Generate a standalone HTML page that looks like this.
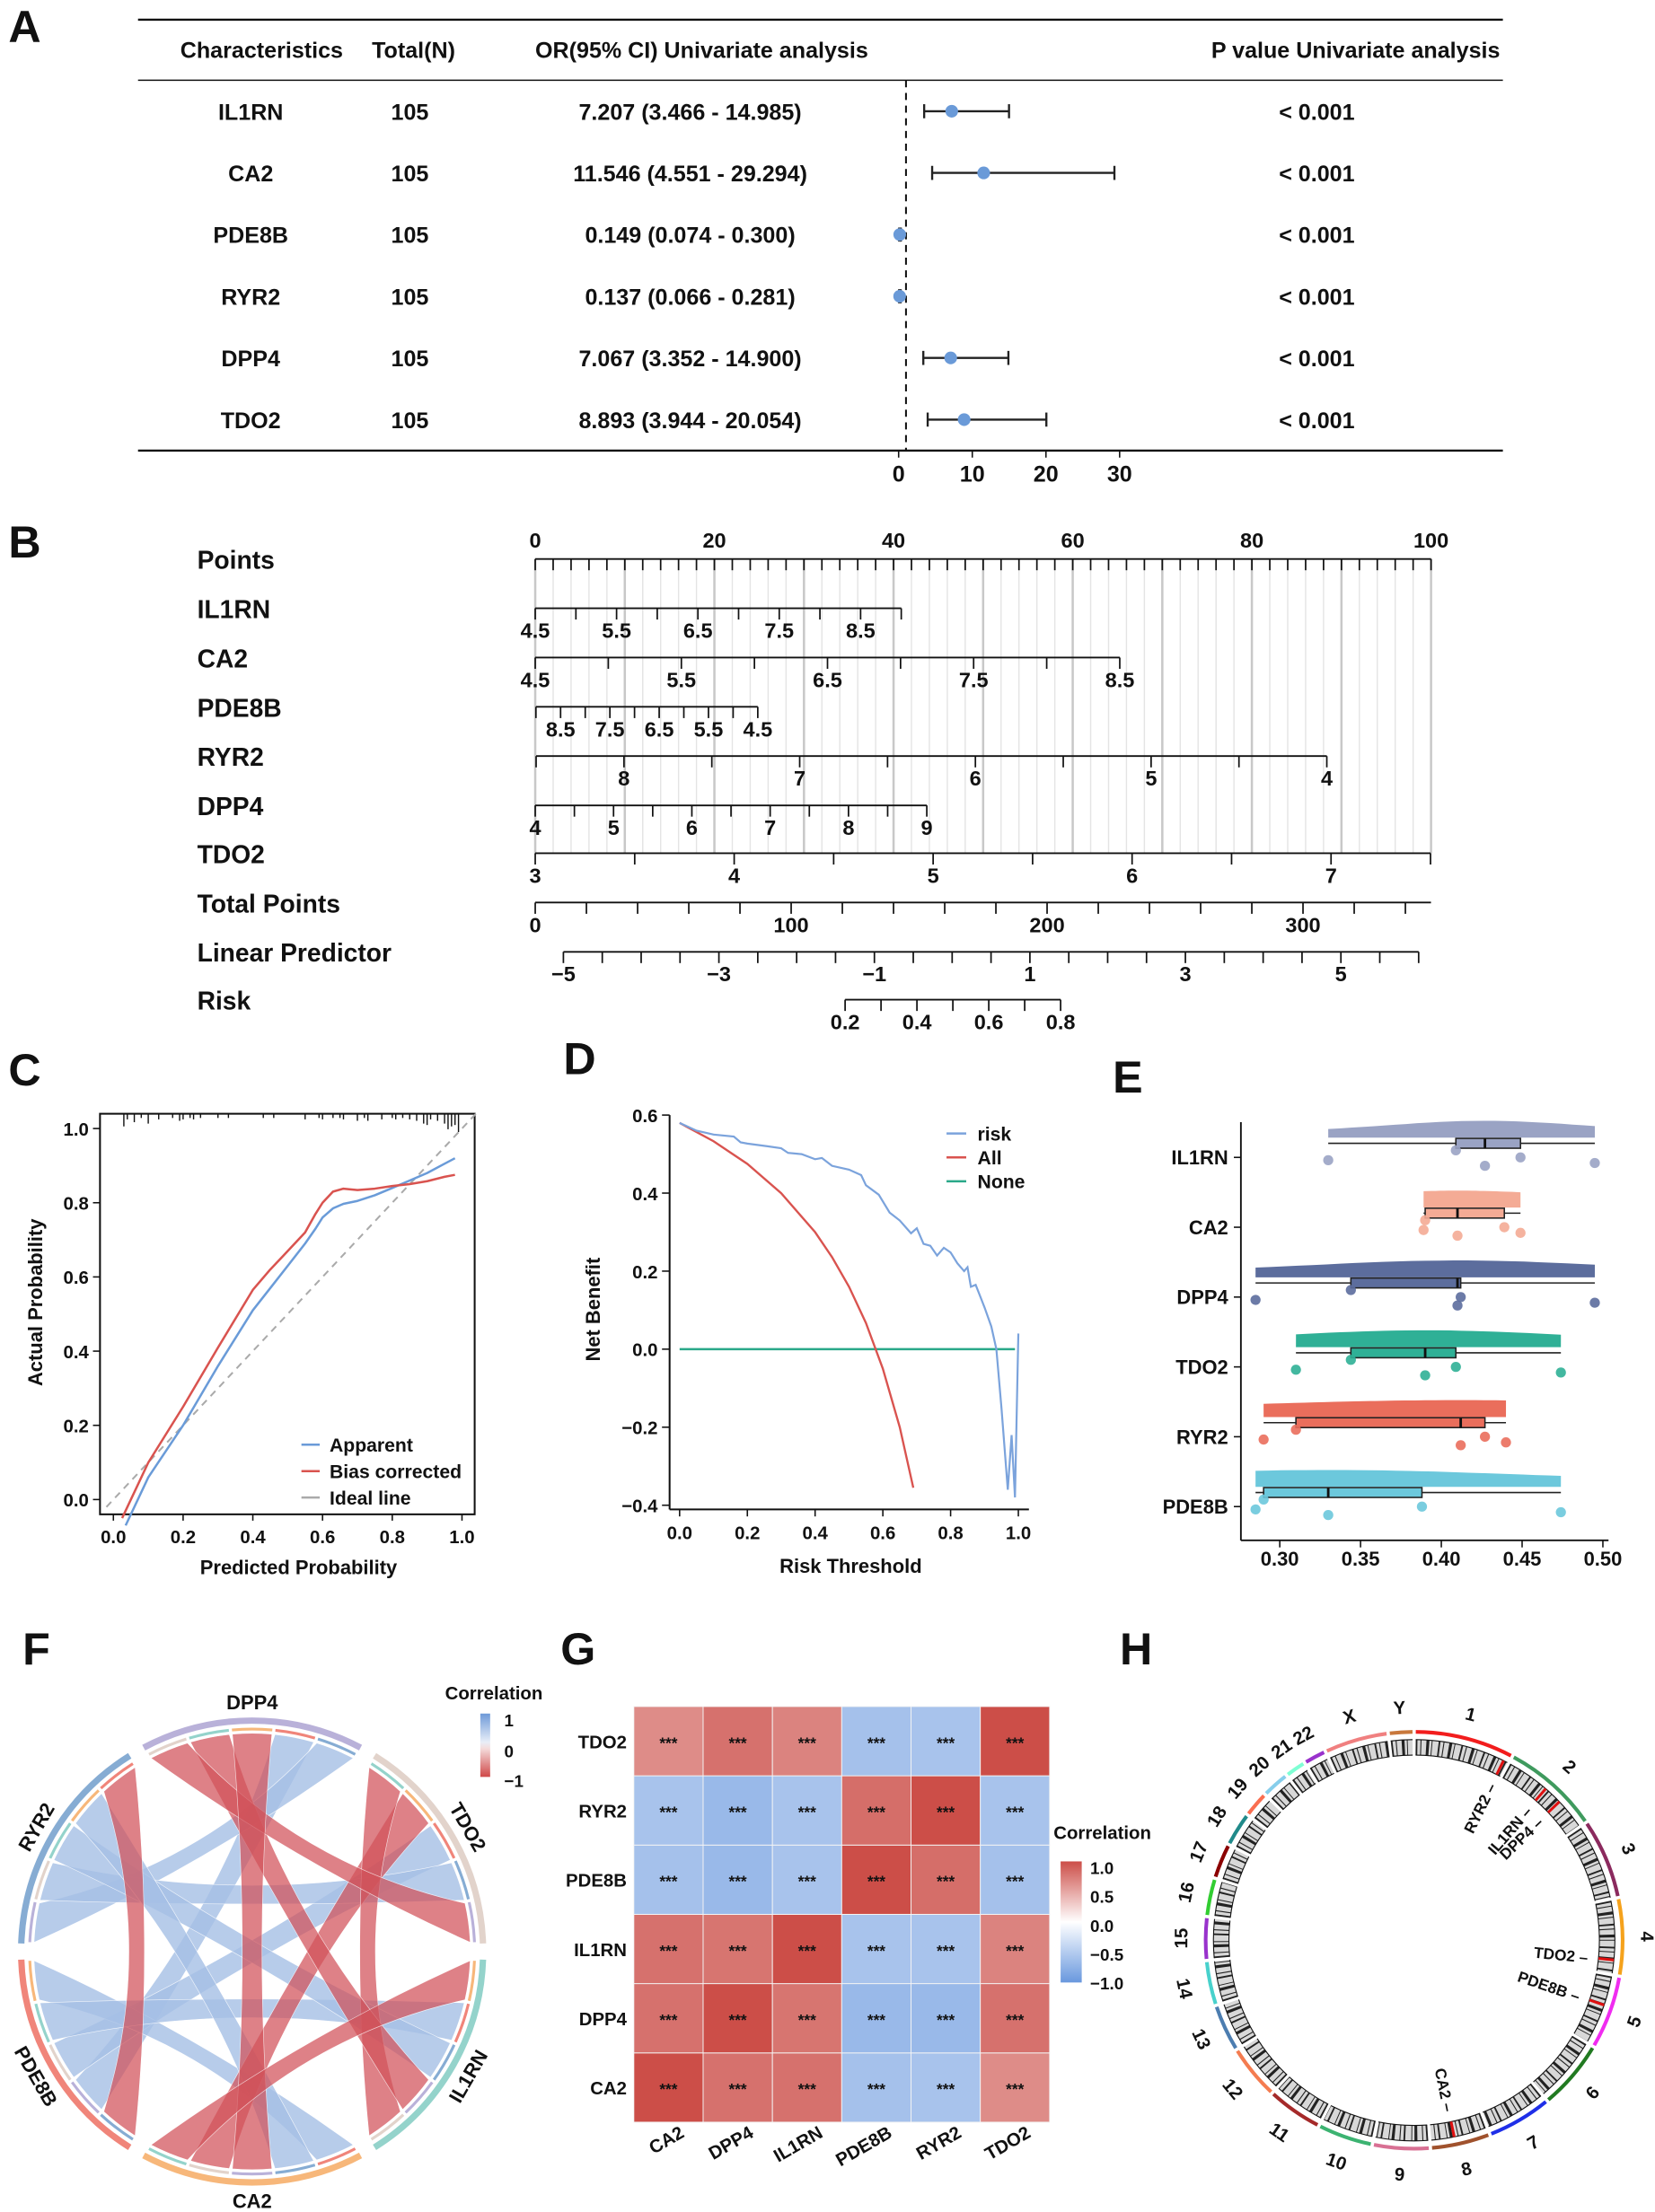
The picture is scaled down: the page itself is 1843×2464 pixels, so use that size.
<!DOCTYPE html>
<html><head><meta charset="utf-8">
<style>
html,body{margin:0;padding:0;background:#fff;}
svg{display:block;font-family:"Liberation Sans",Arial,sans-serif;}
text{font-weight:bold;fill:#111;}
</style></head>
<body>
<svg id="fig" xmlns="http://www.w3.org/2000/svg" width="1843" height="2464" viewBox="0 0 1175 1571" preserveAspectRatio="none">
<rect x="0" y="0" width="1175" height="1571" fill="#fff"/>
<g font-size="32">
<text x="6" y="30">A</text>
<text x="6" y="396">B</text>
<text x="6" y="771">C</text>
<text x="400" y="763">D</text>
<text x="790" y="776">E</text>
<text x="16" y="1182">F</text>
<text x="398" y="1182">G</text>
<text x="795" y="1182">H</text>
</g>
</svg>
<script>
const NS='http://www.w3.org/2000/svg';
const svg=document.getElementById('fig');
function el(tag,attrs,parent,name,txt){
  const e=document.createElementNS(NS,tag);
  for(const k in attrs) e.setAttribute(k,attrs[k]);
  
  
  if(txt!==undefined) e.textContent=txt;
  (parent||svg).appendChild(e);
  return e;
}
function grp(name){return el('g',{},svg,name);}

/* ---------------- Panel A: forest table ---------------- */
const fGenes=['IL1RN','CA2','PDE8B','RYR2','DPP4','TDO2'];
const fTotals=[105,105,105,105,105,105];
const fOR=[7.207,11.546,0.149,0.137,7.067,8.893];
const fLo=[3.466,4.551,0.074,0.066,3.352,3.944];
const fHi=[14.985,29.294,0.300,0.281,14.900,20.054];
const fP=['< 0.001','< 0.001','< 0.001','< 0.001','< 0.001','< 0.001'];
const fTicks=[0,10,20,30];
(function(){
  const g=grp('panel-a-forest');
  const xA=v=>638+v*5.23;
  el('line',{x1:98,x2:1067,y1:14,y2:14,stroke:'#111','stroke-width':1.5},g,'table-top-rule');
  el('line',{x1:98,x2:1067,y1:57,y2:57,stroke:'#111','stroke-width':1},g,'header-rule');
  el('line',{x1:98,x2:1067,y1:320,y2:320,stroke:'#111','stroke-width':1.5},g,'table-bottom-rule');
  const hs=[['Characteristics',128,'start'],['Total(N)',264,'start'],['OR(95% CI) Univariate analysis',380,'start'],['P value Univariate analysis',1065,'end']];
  hs.forEach(h=>el('text',{x:h[1],y:41,'font-size':16,'text-anchor':h[2]},g,'column-header',h[0]));
  el('line',{x1:xA(1),x2:xA(1),y1:57,y2:320,stroke:'#111','stroke-width':1.3,'stroke-dasharray':'5,4'},g,'reference-line');
  fGenes.forEach((n,i)=>{
    const y=79+i*43.8;
    el('text',{x:178,y:y+6,'font-size':16,'text-anchor':'middle'},g,'gene-name',n);
    el('text',{x:291,y:y+6,'font-size':16,'text-anchor':'middle'},g,'total-n',String(fTotals[i]));
    el('text',{x:490,y:y+6,'font-size':16,'text-anchor':'middle'},g,'odds-ratio-ci',fOR[i].toFixed(3)+' ('+fLo[i].toFixed(3)+' - '+fHi[i].toFixed(3)+')');
    el('text',{x:908,y:y+6,'font-size':16},g,'p-value',fP[i]);
    el('line',{x1:xA(fLo[i]),x2:xA(fHi[i]),y1:y,y2:y,stroke:'#222','stroke-width':1.5},g,'ci-line');
    [fLo[i],fHi[i]].forEach(v=>el('line',{x1:xA(v),x2:xA(v),y1:y-5,y2:y+5,stroke:'#222','stroke-width':1.5},g,'ci-cap'));
    el('circle',{cx:xA(fOR[i]),cy:y,r:4.5,fill:'#6a9ad8'},g,'or-point');
  });
  fTicks.forEach(t=>{
    el('line',{x1:xA(t),x2:xA(t),y1:320,y2:325,stroke:'#111'},g,'x-tick');
    el('text',{x:xA(t),y:342,'font-size':16,'text-anchor':'middle'},g,'x-tick-label',String(t));
  });
})();

/* ---------------- Panel B: nomogram ---------------- */
const nRows=['Points','IL1RN','CA2','PDE8B','RYR2','DPP4','TDO2','Total Points','Linear Predictor','Risk'];
const nLabelsIL1RN=[4.5,5.5,6.5,7.5,8.5];
const nLabelsCA2=[4.5,5.5,6.5,7.5,8.5];
const nLabelsPDE8B=[8.5,7.5,6.5,5.5,4.5];
const nLabelsRYR2=[8,7,6,5,4];
const nLabelsDPP4=[4,5,6,7,8,9];
const nLabelsTDO2=[3,4,5,6,7];
const nLabelsTotal=[0,100,200,300];
const nLabelsLP=[-5,-3,-1,1,3,5];
const nLabelsRisk=[0.2,0.4,0.6,0.8];
const nLabelsPoints=[0,20,40,60,80,100];
(function(){
  const g=grp('panel-b-nomogram');
  const ys=[397,432,467,502,537,572,606,641,676,710];
  const ptX=v=>380+v*6.36;
  for(let v=0;v<=100;v+=2){
    el('line',{x1:ptX(v),x2:ptX(v),y1:397,y2:606,stroke:v%10===0?'#c8c8c8':'#e4e4e4','stroke-width':v%10===0?1.6:0.9},g,'grid-line');
  }
  nRows.forEach((n,i)=>el('text',{x:140,y:ys[i]+7,'font-size':18},g,'row-label',n));
  function axis(y,v0,p0,k,a,b,step,labels,name,above,fmt){
    const X=v=>p0+(v-v0)*k;
    el('line',{x1:X(a),x2:X(b),y1:y,y2:y,stroke:'#111','stroke-width':1.2},g,name+'-axis');
    const lo=Math.min(a,b),hi=Math.max(a,b);
    for(let v=lo;v<=hi+1e-9;v+=step){
      el('line',{x1:X(v),x2:X(v),y1:y,y2:y+8,stroke:'#111','stroke-width':1.1},g,name+'-tick');
    }
    labels.forEach(v=>el('text',{x:X(v),y:above?y-8:y+21,'font-size':15,'text-anchor':'middle'},g,name+'-tick-label',fmt?fmt(v):String(v)));
  }
  axis(397,0,380,6.36,0,100,2,nLabelsPoints,'points',true);
  const f1=v=>v.toFixed(1);
  axis(432,4.5,380,57.75,4.5,9,0.5,nLabelsIL1RN,'il1rn',false,f1);
  axis(467,4.5,380,103.75,4.5,8.5,0.5,nLabelsCA2,'ca2',false,f1);
  axis(502,8.5,398,-35,9,4.5,0.5,nLabelsPDE8B,'pde8b',false,f1);
  axis(537,8,443,-124.75,8.5,4,0.5,nLabelsRYR2,'ryr2',false);
  axis(572,4,380,55.6,4,9,0.5,nLabelsDPP4,'dpp4',false);
  axis(606,3,380,141.25,3,7.5,0.5,nLabelsTDO2,'tdo2',false);
  axis(641,0,380,1.817,0,350,20,nLabelsTotal,'total-points',false);
  axis(676,-5,400,55.2,-5,6,0.5,nLabelsLP,'linear-predictor',false,v=>v<0?'\u2212'+Math.abs(v):String(v));
  axis(710,0.2,600,255,0.2,0.8,0.1,nLabelsRisk,'risk',false,f1);
})();

/* ---------------- Panel C: calibration ---------------- */
const cApparentX=[0.035,0.1,0.2,0.3,0.4,0.45,0.5,0.55,0.58,0.6,0.63,0.66,0.7,0.75,0.8,0.85,0.9,0.95,0.98];
const cApparentY=[-0.07,0.06,0.2,0.36,0.51,0.57,0.63,0.69,0.73,0.76,0.785,0.797,0.805,0.82,0.84,0.86,0.88,0.905,0.92];
const cBiasX=[0.025,0.1,0.2,0.3,0.4,0.45,0.5,0.55,0.58,0.6,0.63,0.66,0.7,0.75,0.8,0.85,0.9,0.95,0.98];
const cBiasY=[-0.05,0.1,0.25,0.41,0.565,0.62,0.67,0.72,0.77,0.8,0.83,0.838,0.834,0.838,0.845,0.85,0.858,0.87,0.875];
const cRug=[0.03,0.04,0.06,0.08,0.1,0.13,0.17,0.19,0.2,0.22,0.23,0.25,0.3,0.33,0.43,0.46,0.55,0.59,0.6,0.63,0.65,0.66,0.7,0.72,0.73,0.77,0.8,0.81,0.83,0.85,0.87,0.89,0.9,0.91,0.93,0.95,0.96,0.97,0.98,0.99];
const cRugLen=[9,4,6,3,7,4,3,5,4,3,4,3,3,3,3,3,4,3,4,3,3,4,5,3,5,4,3,4,3,4,5,7,8,4,5,7,11,9,8,13];
const cTicks=[0,0.2,0.4,0.6,0.8,1.0];
(function(){
  const g=grp('panel-c-calibration');
  const X=v=>80.5+v*247.5, Y=v=>1065-v*263.5;
  el('rect',{x:71,y:791,width:266,height:284.5,fill:'none',stroke:'#111','stroke-width':1.3},g,'plot-frame');
  cTicks.forEach(t=>{
    el('line',{x1:66,x2:71,y1:Y(t),y2:Y(t),stroke:'#111'},g,'y-tick');
    el('text',{x:63,y:Y(t)+5,'font-size':13,'text-anchor':'end'},g,'y-tick-label',t.toFixed(1));
    el('line',{x1:X(t),x2:X(t),y1:1075.5,y2:1080,stroke:'#111'},g,'x-tick');
    el('text',{x:X(t),y:1096,'font-size':13,'text-anchor':'middle'},g,'x-tick-label',t.toFixed(1));
  });
  cRug.forEach((v,i)=>el('line',{x1:X(v),x2:X(v),y1:791,y2:791+cRugLen[i],stroke:'#111','stroke-width':0.9},g,'rug-tick'));
  el('line',{x1:X(-0.02),y1:Y(-0.02),x2:X(1.05),y2:Y(1.05),stroke:'#aaa','stroke-width':1.3,'stroke-dasharray':'5,4'},g,'ideal-line');
  const path=(xs,ys)=>xs.map((x,i)=>(i?'L':'M')+X(x).toFixed(1)+','+Y(ys[i]).toFixed(1)).join(' ');
  el('path',{d:path(cApparentX,cApparentY),fill:'none',stroke:'#6a9bd8','stroke-width':1.6,'stroke-linejoin':'round'},g,'apparent-line');
  el('path',{d:path(cBiasX,cBiasY),fill:'none',stroke:'#d9534f','stroke-width':1.6,'stroke-linejoin':'round'},g,'bias-corrected-line');
  const lg=[['Apparent','#6a9bd8'],['Bias corrected','#d9534f'],['Ideal line','#aaa']];
  lg.forEach((l,i)=>{
    const y=1026+i*18.8;
    el('line',{x1:214,x2:227,y1:y,y2:y,stroke:l[1],'stroke-width':1.6},g,'legend-swatch');
    el('text',{x:234,y:y+5,'font-size':13.5},g,'legend-entry',l[0]);
  });
  el('text',{x:212,y:1118,'font-size':14,'text-anchor':'middle'},g,'x-axis-title','Predicted Probability');
  el('text',{x:0,y:0,'font-size':14,'text-anchor':'middle',transform:'translate(30,925) rotate(-90)'},g,'y-axis-title','Actual Probability');
})();

/* ---------------- Panel D: decision curve ---------------- */
const dRiskX=[0,0.05,0.1,0.16,0.18,0.2,0.26,0.3,0.32,0.36,0.4,0.42,0.45,0.5,0.536,0.55,0.588,0.62,0.65,0.683,0.7,0.72,0.74,0.76,0.78,0.8,0.82,0.84,0.85,0.86,0.874,0.89,0.9,0.92,0.935,0.95,0.969,0.98,0.99,1.0];
const dRiskY=[0.58,0.56,0.55,0.545,0.53,0.527,0.52,0.515,0.503,0.5,0.487,0.49,0.47,0.46,0.446,0.42,0.396,0.35,0.33,0.297,0.31,0.27,0.265,0.24,0.26,0.248,0.22,0.2,0.21,0.16,0.165,0.13,0.107,0.058,0.0,-0.15,-0.36,-0.22,-0.38,0.04];
const dAllX=[0,0.1,0.2,0.3,0.4,0.45,0.5,0.55,0.6,0.65,0.69];
const dAllY=[0.58,0.533,0.475,0.4,0.3,0.236,0.16,0.067,-0.05,-0.2,-0.355];
const dTicksX=[0,0.2,0.4,0.6,0.8,1.0];
const dTicksY=[-0.4,-0.2,0,0.2,0.4,0.6];
(function(){
  const g=grp('panel-d-decision-curve');
  const X=v=>482.5+v*240.5, Y=v=>958.2-v*277.1;
  el('line',{x1:475.4,x2:475.4,y1:Y(0.6),y2:1072,stroke:'#111','stroke-width':1.3},g,'y-axis');
  el('line',{x1:475.4,x2:730.5,y1:1072,y2:1072,stroke:'#111','stroke-width':1.3},g,'x-axis');
  dTicksY.forEach(t=>{
    el('line',{x1:470,x2:475.4,y1:Y(t),y2:Y(t),stroke:'#111'},g,'y-tick');
    el('text',{x:467,y:Y(t)+5,'font-size':13,'text-anchor':'end'},g,'y-tick-label',(t<0?'\u2212':'')+Math.abs(t).toFixed(1));
  });
  dTicksX.forEach(t=>{
    el('line',{x1:X(t),x2:X(t),y1:1072,y2:1077,stroke:'#111'},g,'x-tick');
    el('text',{x:X(t),y:1093,'font-size':13,'text-anchor':'middle'},g,'x-tick-label',t.toFixed(1));
  });
  el('line',{x1:X(0),x2:X(0.99),y1:Y(0),y2:Y(0),stroke:'#2aa889','stroke-width':1.6},g,'none-line');
  const path=(xs,ys)=>xs.map((x,i)=>(i?'L':'M')+X(x).toFixed(1)+','+Y(ys[i]).toFixed(1)).join(' ');
  el('path',{d:path(dAllX,dAllY),fill:'none',stroke:'#d9534f','stroke-width':1.5},g,'all-line');
  el('path',{d:path(dRiskX,dRiskY),fill:'none',stroke:'#7ba3dc','stroke-width':1.4},g,'risk-line');
  const lg=[['risk','#7ba3dc'],['All','#d9534f'],['None','#2aa889']];
  lg.forEach((l,i)=>{
    const y=805+i*17;
    el('line',{x1:672,x2:686,y1:y,y2:y,stroke:l[1],'stroke-width':1.6},g,'legend-swatch');
    el('text',{x:694,y:y+5,'font-size':13.5},g,'legend-entry',l[0]);
  });
  el('text',{x:604,y:1117,'font-size':14,'text-anchor':'middle'},g,'x-axis-title','Risk Threshold');
  el('text',{x:0,y:0,'font-size':14,'text-anchor':'middle',transform:'translate(426,930) rotate(-90)'},g,'y-axis-title','Net Benefit');
})();

/* ---------------- Panel E: raincloud ---------------- */
const eGenes=['IL1RN','CA2','DPP4','TDO2','RYR2','PDE8B'];
const eColors=['#9aa3c4','#f4ab95','#5c6d9d','#2fb096','#ea6e5c','#6cc8dc'];
const eMin=[0.33,0.389,0.285,0.31,0.29,0.285];
const eQ1=[0.409,0.39,0.344,0.344,0.31,0.29];
const eMed=[0.427,0.41,0.41,0.39,0.412,0.33];
const eQ3=[0.449,0.439,0.412,0.409,0.427,0.388];
const eMax=[0.495,0.449,0.495,0.474,0.44,0.474];
const ePts=[[0.33,0.409,0.427,0.449,0.495],[0.389,0.39,0.41,0.439,0.449],[0.285,0.344,0.41,0.412,0.495],[0.31,0.344,0.39,0.409,0.474],[0.29,0.31,0.412,0.427,0.44],[0.285,0.29,0.33,0.388,0.474]];
const eTicks=[0.30,0.35,0.40,0.45,0.50];
(function(){
  const g=grp('panel-e-raincloud');
  const X=v=>908.6+(v-0.30)*1147;
  const jit=[4,-3,8,2,6];
  el('line',{x1:881,x2:881,y1:797,y2:1094,stroke:'#111','stroke-width':1.2},g,'y-axis');
  el('line',{x1:881,x2:1142,y1:1094,y2:1094,stroke:'#111','stroke-width':1.2},g,'x-axis');
  eTicks.forEach(t=>{
    el('line',{x1:X(t),x2:X(t),y1:1094,y2:1099,stroke:'#111'},g,'x-tick');
    el('text',{x:X(t),y:1112,'font-size':14,'text-anchor':'middle'},g,'x-tick-label',t.toFixed(2));
  });
  eGenes.forEach((n,i)=>{
    const y=822+i*49.6, by=y-10;
    el('line',{x1:876,x2:881,y1:y,y2:y,stroke:'#111'},g,'y-tick');
    el('text',{x:872,y:y+5,'font-size':14,'text-anchor':'end'},g,'y-tick-label',n);
    const a=eMin[i],b=eMax[i],base=by-4;
    let d='M'+X(a)+','+base;
    const N=24;
    for(let k=0;k<=N;k++){
      const v=a+(b-a)*k/N;
      const z=(v-eMed[i])/((eQ3[i]-eQ1[i])+0.02);
      const h=4+8*Math.exp(-z*z/2);
      d+=' L'+X(v).toFixed(1)+','+(base-h).toFixed(1);
    }
    d+=' L'+X(b)+','+base+' Z';
    el('path',{d:d,fill:eColors[i]},g,'violin-'+n.toLowerCase());
    el('line',{x1:X(eMin[i]),x2:X(eMax[i]),y1:by,y2:by,stroke:'#222','stroke-width':1},g,'whisker');
    el('rect',{x:X(eQ1[i]),y:by-3.5,width:X(eQ3[i])-X(eQ1[i]),height:7,fill:eColors[i],stroke:'#222','stroke-width':1},g,'box-'+n.toLowerCase());
    el('line',{x1:X(eMed[i]),x2:X(eMed[i]),y1:by-3.5,y2:by+3.5,stroke:'#111','stroke-width':1.8},g,'median');
    ePts[i].forEach((v,k)=>el('circle',{cx:X(v),cy:y+jit[k]-2,r:3.6,fill:eColors[i],opacity:0.9},g,'data-point'));
  });
})();

/* ---------------- Panel G: correlation heatmap ---------------- */
const gLabels=['CA2','DPP4','IL1RN','PDE8B','RYR2','TDO2'];
const gCorr=[
 [1,0.8,0.8,-0.6,-0.58,0.65],
 [0.8,1,0.78,-0.68,-0.68,0.8],
 [0.8,0.78,1,-0.58,-0.58,0.7],
 [-0.6,-0.68,-0.58,1,0.82,-0.6],
 [-0.58,-0.68,-0.58,0.82,1,-0.58],
 [0.65,0.8,0.7,-0.6,-0.58,1]];
const gSig=['***','***','***','***','***','***'];
const gLegendTicks=[1.0,0.5,0.0,-0.5,-1.0];
function corrColor(v){
  const t=Math.min(1,Math.abs(v));
  const e=v>=0?[204,78,72]:[105,152,222];
  const c=e.map(x=>Math.round(255+(x-255)*t));
  return 'rgb('+c.join(',')+')';
}
(function(){
  const g=grp('panel-g-heatmap');
  const x0=450,y0=1212,s=49.2;
  gLabels.forEach((r,ri)=>{
    const row=5-ri;
    gLabels.forEach((c,ci)=>{
      el('rect',{x:x0+ci*s,y:y0+row*s,width:s,height:s,fill:corrColor(gCorr[ri][ci]),stroke:'#f4f4f4','stroke-width':0.6},g,'heatmap-cell');
      el('text',{x:x0+ci*s+s/2,y:y0+row*s+s/2+5,'font-size':11,'font-weight':'normal','text-anchor':'middle'},g,'significance-label',gSig[ci]);
    });
    el('text',{x:445,y:y0+row*s+s/2+5,'font-size':13,'text-anchor':'end'},g,'row-label',r);
    el('text',{x:0,y:0,'font-size':13,'text-anchor':'end',transform:'translate('+(x0+ri*s+s/2+12)+','+(y0+6*s+10)+') rotate(-30)'},g,'column-label',r);
  });
  const defs=el('defs',{},g,'defs');
  const lgd=el('linearGradient',{id:'corrgrad',x1:0,y1:0,x2:0,y2:1},defs,'gradient');
  gLegendTicks.forEach((t,i)=>el('stop',{offset:(i/4),'stop-color':corrColor(t)},lgd,'gradient-stop'));
  el('text',{x:748,y:1306,'font-size':13},g,'legend-title','Correlation');
  el('rect',{x:753,y:1322,width:15,height:86,fill:'url(#corrgrad)'},g,'legend-colorbar');
  gLegendTicks.forEach((t,i)=>{
    const y=1326+i*20.5;
    el('text',{x:774,y:y+5,'font-size':12},g,'legend-tick-label',(t<0?'\u2212':'')+Math.abs(t).toFixed(1));
  });
})();

/* ---------------- Panel F: chord diagram ---------------- */
const chGenes=['DPP4','TDO2','IL1RN','CA2','PDE8B','RYR2'];
const chColors=['#b9b1d9','#e2d3cb','#94d3cb','#f7b77a','#f0857a','#86acd3'];
(function(){
  const g=grp('panel-f-chord');
  const cx=179,cy=1386;
  const idx=n=>gLabels.indexOf(n);
  const pt=(a,r)=>[cx+r*Math.sin(a*Math.PI/180),cy-r*Math.cos(a*Math.PI/180)];
  const slot=(i,k)=>{const s=i*60-28+k*11.2;return [s+0.4,s+10.8];};
  const order=[];
  for(let i=0;i<6;i++)for(let j=i+1;j<6;j++)order.push([i,j]);
  const slotOf={};
  for(let i=0;i<6;i++){
    let k=0;
    for(let d=1;d<6;d++){const j=(i+d)%6;slotOf[i+'-'+j]=k++;}
  }
  const sorted=order.slice().sort((p,q)=>gCorr[idx(chGenes[p[0]])][idx(chGenes[p[1]])]-gCorr[idx(chGenes[q[0]])][idx(chGenes[q[1]])]);
  sorted.forEach(p=>{
    const i=p[0],j=p[1];
    const v=gCorr[idx(chGenes[i])][idx(chGenes[j])];
    const A=slot(i,slotOf[i+'-'+j]),B=slot(j,slotOf[j+'-'+i]);
    const r=155;
    const sep=Math.min((j-i),6-(j-i));
    const kf=sep===1?0.45:(sep===2?0.2:0);
    let mid=(i*60+j*60)/2; if(j-i>3) mid+=180;
    const c=pt(mid,r*kf);
    const a1=pt(A[0],r),a2=pt(A[1],r),b1=pt(B[0],r),b2=pt(B[1],r);
    const d='M'+a1+' A'+r+','+r+' 0 0 1 '+a2+' Q'+c+' '+b1+' A'+r+','+r+' 0 0 1 '+b2+' Q'+c+' '+a1+' Z';
    el('path',{d:d,fill:v>0?'#d2525a':'#a6c0e6',opacity:v>0?0.72:0.8,stroke:'#fff','stroke-width':0.4},g,'chord-'+chGenes[i].toLowerCase()+'-'+chGenes[j].toLowerCase());
    // partner tags
    [[A,j],[B,i]].forEach(q=>{
      const p1=pt(q[0][0],158),p2=pt(q[0][1],158);
      el('path',{d:'M'+p1+' A158,158 0 0 1 '+p2,fill:'none',stroke:chColors[q[1]],'stroke-width':2},g,'partner-tag');
    });
  });
  chGenes.forEach((n,i)=>{
    const s=i*60-28,e=i*60+28;
    const p1=pt(s,164),p2=pt(e,164);
    el('path',{d:'M'+p1+' A164,164 0 0 1 '+p2,fill:'none',stroke:chColors[i],'stroke-width':4.5},g,'sector-'+n.toLowerCase());
    const lp=pt(i*60,177);
    let rot=i*60; if(rot>90&&rot<270) rot-=180;
    el('text',{x:0,y:0,'font-size':14,'text-anchor':'middle',transform:'translate('+lp[0].toFixed(1)+','+lp[1].toFixed(1)+') rotate('+rot+') translate(0,5)'},g,'sector-label',n);
  });
  el('text',{x:316,y:1207,'font-size':13},g,'legend-title','Correlation');
  const defs=el('defs',{},g,'defs');
  const lg=el('linearGradient',{id:'chgrad',x1:0,y1:0,x2:0,y2:1},defs,'gradient');
  [['0','#6e9ad8'],['0.45','#e8eef8'],['0.55','#f4dcdc'],['1','#d04848']].forEach(s=>el('stop',{offset:s[0],'stop-color':s[1]},lg,'gradient-stop'));
  el('rect',{x:341,y:1217,width:7,height:45,fill:'url(#chgrad)'},g,'legend-colorbar');
  [['1',1222],['0',1244],['\u22121',1265]].forEach(t=>el('text',{x:358,y:t[1]+4,'font-size':12},g,'legend-tick-label',t[0]));
})();

/* ---------------- Panel H: circos ---------------- */
const hChroms=['1','2','3','4','5','6','7','8','9','10','11','12','13','14','15','16','17','18','19','20','21','22','X','Y'];
const hLengths=[248,242,198,190,181,171,159,145,138,134,135,133,114,107,102,90,83,80,59,64,47,51,156,57];
const hGenes=['RYR2','IL1RN','DPP4','TDO2','PDE8B','CA2'];
const hGeneChrom=['1','2','2','4','5','8'];
const hGenePos=[237,113,162,155,77,85];
const hColors=['#f21d1d','#3f9a5e','#8b2a5e','#f5a21c','#f02cf0','#217a21','#1f2fe8','#a0522d','#d87093','#3cb371','#a52a2a','#f47c50','#4c7db0','#48d1cc','#9932cc','#32cd32','#8b0000','#208a8a','#fa6e50','#87ceeb','#7fffd4','#9932cc','#f08080','#c8783c'];
(function(){
  const g=grp('panel-h-circos');
  const cx=1004,cy=1378;
  const total=hLengths.reduce((a,b)=>a+b,0);
  const gap=0.9, avail=360-gap*hChroms.length;
  const pt=(a,r)=>[cx+r*Math.sin(a*Math.PI/180),cy-r*Math.cos(a*Math.PI/180)];
  const arc=(a,b,r)=>{const p1=pt(a,r),p2=pt(b,r);return 'M'+p1+' A'+r+','+r+' 0 '+((b-a)>180?1:0)+' 1 '+p2;};
  let ang=gap/2; const start={};
  hChroms.forEach((c,i)=>{
    const span=hLengths[i]/total*avail;
    start[c]=[ang,span];
    el('path',{d:arc(ang,ang+span,148),fill:'none',stroke:hColors[i],'stroke-width':2.6},g,'chromosome-arc-'+c);
    el('path',{d:arc(ang,ang+span,137),fill:'none',stroke:'#d8d8d8','stroke-width':11},g,'ideogram-'+c);
    el('path',{d:arc(ang,ang+span,137),fill:'none',stroke:'#222','stroke-width':11,'stroke-dasharray':'1.2,2.1,0.7,3.4,2,1.6,0.6,4.2'},g,'ideogram-bands-'+c);
    el('path',{d:arc(ang,ang+span,142.5),fill:'none',stroke:'#111','stroke-width':0.7},g,'ideogram-outline');
    el('path',{d:arc(ang,ang+span,131.5),fill:'none',stroke:'#111','stroke-width':0.7},g,'ideogram-outline');
    const mid=ang+span/2;
    const lp=pt(mid,166);
    let rot=mid; if(rot>90&&rot<270) rot-=180;
    el('text',{x:0,y:0,'font-size':13,'text-anchor':'middle',transform:'translate('+lp[0].toFixed(1)+','+lp[1].toFixed(1)+') rotate('+rot.toFixed(1)+') translate(0,5)'},g,'chromosome-label',c);
    ang+=span+gap;
  });
  hGenes.forEach((n,i)=>{
    const s=start[hGeneChrom[i]];
    const a=s[0]+hGenePos[i]/hLengths[hChroms.indexOf(hGeneChrom[i])]*s[1];
    el('path',{d:arc(a-0.4,a+0.4,137),fill:'none',stroke:'#e01010','stroke-width':11},g,'gene-marker');
    const lp=pt(a,124);
    let rot=a-90, anchor='end';
    if(a>180){rot=a+90;anchor='start';}
    el('text',{x:0,y:0,'font-size':11,'text-anchor':anchor,transform:'translate('+lp[0].toFixed(1)+','+lp[1].toFixed(1)+') rotate('+rot.toFixed(1)+') translate(0,4)'},g,'gene-label',n+' \u2013');
  });
})();
</script>
</body></html>
